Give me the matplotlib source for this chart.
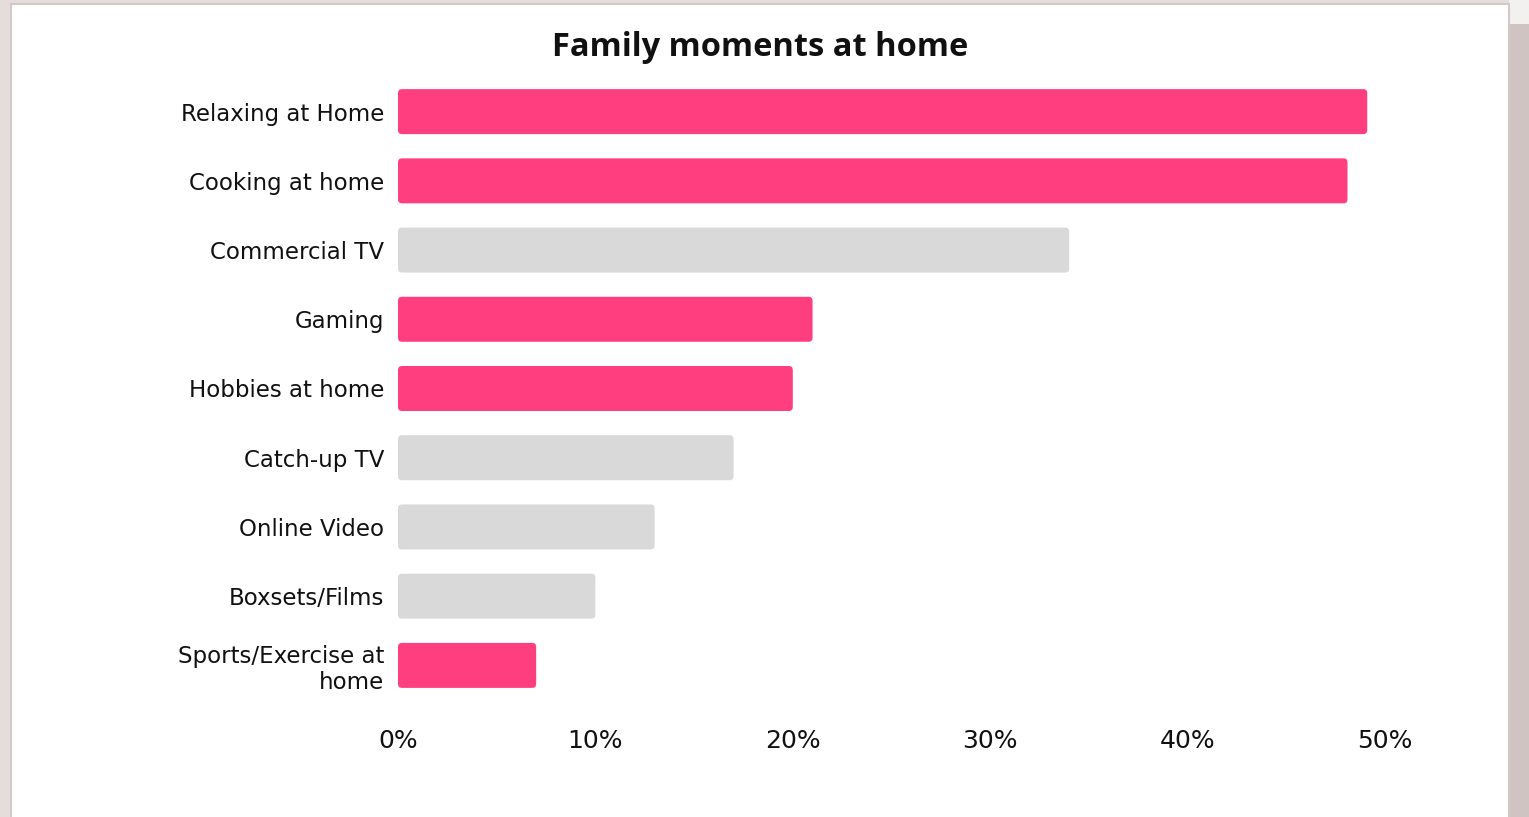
import matplotlib
matplotlib.use("Agg")
import matplotlib.pyplot as plt
from matplotlib.patches import Rectangle, FancyBboxPatch

plt.rcParams["font.family"] = ["DejaVu Sans"]

# ── data ─────────────────────────────────────────────
activities = ["Relaxing at Home", "Cooking at home", "Commercial TV", "Gaming",
              "Hobbies at home", "Catch-up TV", "Online Video", "Boxsets/Films",
              "Sports/Exercise at\nhome"]
share = [49.1, 48.1, 34, 21, 20, 17, 13, 10, 7]
family = [True, True, False, True, True, False, False, False, True]
xticks = [0, 10, 20, 30, 40, 50]

PINK, GREY = "#ff3e80", "#d9d9d9"
W, H = 1529, 817

fig = plt.figure(figsize=(W / 100, H / 100), dpi=100, facecolor="#e5dcdc")

# page frame: white card with a darker strip on the right
def px(x0, y0, x1, y1):
    return (x0 / W, 1 - y1 / H), (x1 - x0) / W, (y1 - y0) / H

for (x0, y0, x1, y1), c in [((1509, 0, W, 24), "#f3f1f0"),
                            ((1509, 24, W, H), "#cfc4c2")]:
    xy, w, h = px(x0, y0, x1, y1)
    fig.patches.append(Rectangle(xy, w, h, transform=fig.transFigure,
                                 facecolor=c, edgecolor="none", zorder=-10))
xy, w, h = px(11, 4, 1509, H + 5)
fig.patches.append(Rectangle(xy, w, h, transform=fig.transFigure,
                             facecolor="white", edgecolor="#d4c9c9",
                             linewidth=1.5, zorder=-10))

# axes: 0% at x=398, 50% at x=1385; rows 69.25 px apart
ax = fig.add_axes([398 / W, 1 - 700 / H, (1385 - 398) / W, (700 - 77) / H])
ax.set_facecolor("none")
colors = [PINK if f else GREY for f in family]
bars = ax.barh(range(len(activities)), share, height=0.65, color=colors)
ax.set_xlim(0, 50)
ax.set_ylim(len(activities) - 0.5, -0.5)

# swap plain rectangles for slightly rounded ones
for b in bars:
    x, y, bw, bh = b.get_x(), b.get_y(), b.get_width(), b.get_height()
    b.set_visible(False)
    ax.add_patch(FancyBboxPatch((x, y), bw, bh,
                                boxstyle="round,pad=0,rounding_size=0.2",
                                mutation_aspect=0.29,
                                facecolor=b.get_facecolor(), edgecolor="none"))

ax.set_yticks(range(len(activities)))
ax.set_yticklabels(activities, fontsize=16.5, color="#111111", linespacing=1.2)
ax.set_xticks(xticks)
ax.set_xticklabels([f"{t}%" for t in xticks], fontsize=18, color="#111111")
ax.tick_params(axis="y", length=0, pad=10)
ax.tick_params(axis="x", length=0, pad=21)
for s in ax.spines.values():
    s.set_visible(False)

fig.text(760 / W, 1 - 47 / H, "Family moments at home", ha="center",
         va="center", fontsize=23.5, fontweight="bold", color="#111111",
         family=["Open Sans", "DejaVu Sans"])

fig.savefig("out.png", dpi=100, facecolor=fig.get_facecolor())
